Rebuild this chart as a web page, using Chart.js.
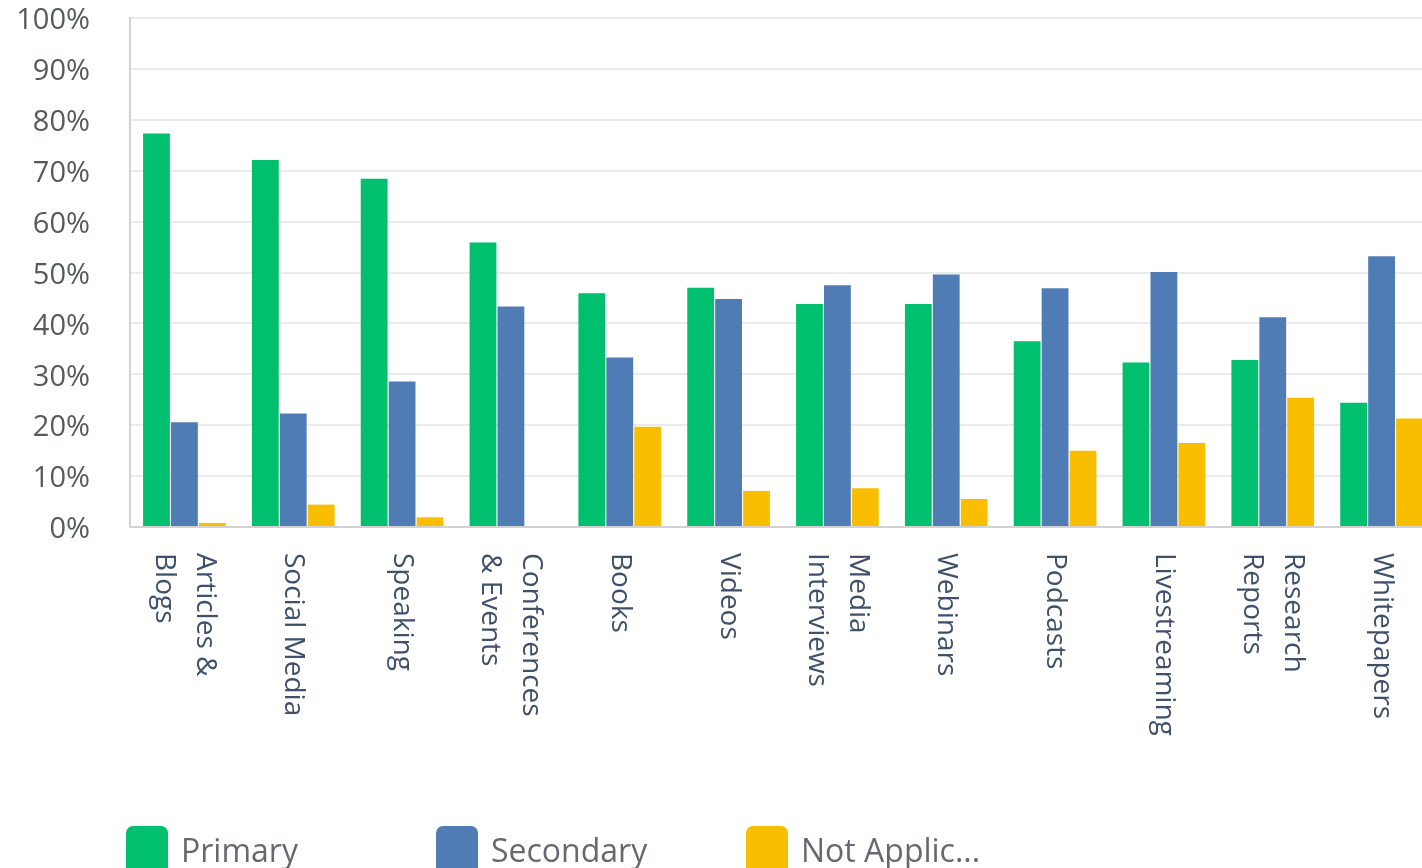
<!DOCTYPE html>
<html>
<head>
<meta charset="utf-8">
<script src="https://cdn.jsdelivr.net/npm/chart.js@4.4.1/dist/chart.umd.min.js"></script>
<style>
  html, body { margin: 0; padding: 0; background: #ffffff; overflow: hidden; }
  #wrap { position: relative; width: 1446px; height: 880px; }
</style>
</head>
<body>
<div id="wrap"><canvas id="chart" width="1446" height="880"></canvas></div>
<script>
// Survey answers: share of respondents per content channel
const categories = [
  ["Articles &", "Blogs"], "Social Media", "Speaking", ["Conferences", "& Events"],
  "Books", "Videos", ["Media", "Interviews"], "Webinars", "Podcasts",
  "Livestreaming", ["Research", "Reports"], "Whitepapers"
];
const primary       = [77.3, 72.1, 68.4, 55.9, 45.9, 47.0, 43.8, 43.8, 36.5, 32.3, 32.8, 24.4];
const secondary     = [20.6, 22.3, 28.6, 43.3, 33.3, 44.8, 47.5, 49.6, 46.9, 50.1, 41.2, 53.2];
const notApplicable = [0.8, 4.4, 1.9, 0, 19.7, 7.1, 7.6, 5.5, 15.0, 16.5, 25.4, 21.3];
const seriesNames   = ["Primary", "Secondary", "Not Applic..."];
const seriesColors  = ["#00bf6f", "#507cb6", "#f9be00"];
const yTickStep = 10;
const yMax = 100;

// Vertical category labels, reading top-to-bottom (rotated clockwise)
const categoryLabels = {
  id: "categoryLabels",
  afterDraw(chart) {
    const ctx = chart.ctx;
    const xs = chart.scales.x;
    const top = chart.chartArea.bottom + 26;
    const lineH = 41;
    ctx.save();
    ctx.font = "28px 'Open Sans'";
    ctx.fillStyle = "#40506b";
    ctx.textAlign = "left";
    ctx.textBaseline = "middle";
    categories.forEach((lab, i) => {
      const lines = Array.isArray(lab) ? lab : [lab];
      const x = xs.getPixelForValue(i);
      ctx.save();
      ctx.translate(x, top);
      ctx.rotate(Math.PI / 2);
      lines.forEach((ln, j) => {
        const off = (j - (lines.length - 1) / 2) * lineH;
        ctx.fillText(ln, 0, off);
      });
      ctx.restore();
    });
    ctx.restore();
  }
};

// Legend with evenly pitched entries and tall rounded swatches
const pitchedLegend = {
  id: "pitchedLegend",
  afterDraw(chart) {
    const ctx = chart.ctx;
    const startX = 126, pitch = 310, boxTop = 826, boxW = 42, boxH = 56, r = 7;
    ctx.save();
    ctx.font = "32px 'Open Sans'";
    ctx.textAlign = "left";
    ctx.textBaseline = "alphabetic";
    chart.data.datasets.forEach((ds, i) => {
      const x = startX + i * pitch;
      ctx.fillStyle = ds.backgroundColor;
      ctx.beginPath();
      ctx.roundRect(x, boxTop, boxW, boxH, r);
      ctx.fill();
      ctx.fillStyle = "#666a70";
      ctx.fillText(ds.label, x + 55, 862);
    });
    ctx.restore();
  }
};

new Chart(document.getElementById("chart"), {
  type: "bar",
  data: {
    labels: categories,
    datasets: [
      { label: seriesNames[0], data: primary,       backgroundColor: seriesColors[0] },
      { label: seriesNames[1], data: secondary,     backgroundColor: seriesColors[1] },
      { label: seriesNames[2], data: notApplicable, backgroundColor: seriesColors[2] }
    ]
  },
  options: {
    responsive: false,
    animation: false,
    devicePixelRatio: 1,
    layout: { padding: { left: 0, top: 18, right: 10, bottom: 0 } },
    datasets: { bar: { categoryPercentage: 0.77, barPercentage: 0.96, borderWidth: 0 } },
    plugins: {
      legend: { display: false },
      tooltip: { enabled: false }
    },
    scales: {
      x: {
        grid: { display: false, drawTicks: false },
        border: { display: true, color: "#d2d2d2", width: 2 },
        ticks: { display: false },
        afterFit(scale) { scale.height = 880 - 527; }
      },
      y: {
        min: 0,
        max: yMax,
        ticks: {
          stepSize: yTickStep,
          padding: 40,
          labelOffset: 3,
          color: "#555a60",
          font: { family: "'Open Sans'", size: 29 },
          callback: v => v + "%"
        },
        grid: { color: "#ebebeb", lineWidth: 2, drawTicks: false },
        border: { display: true, color: "#d2d2d2", width: 2 },
        afterFit(scale) {
          scale.width = 130;
          scale.paddingTop = 0;
          scale.paddingBottom = 0;
        }
      }
    }
  },
  plugins: [categoryLabels, pitchedLegend]
});
</script>
</body>
</html>
